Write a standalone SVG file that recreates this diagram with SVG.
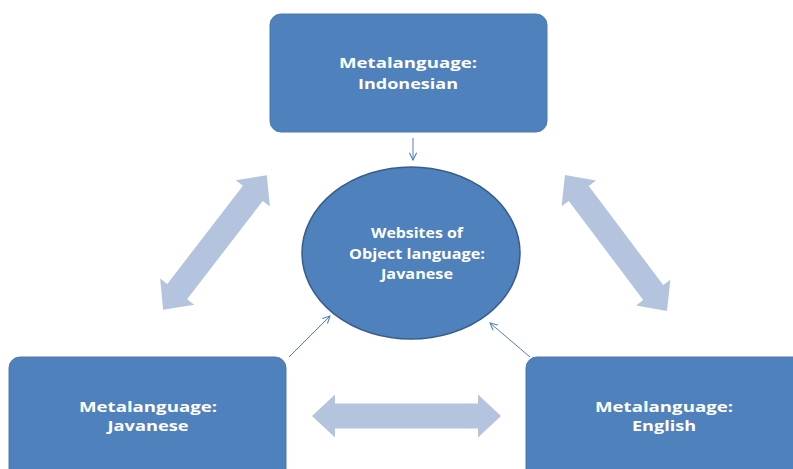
<svg xmlns="http://www.w3.org/2000/svg" width="793" height="469" viewBox="0 0 793 469">
<defs>
<style>
.box{fill:#4f81bd;stroke:#4a7ab5;stroke-width:1}
.ell{fill:#4f81bd;stroke:#385d8a;stroke-width:1.5}
.t{font-family:"Open Sans","DejaVu Sans",sans-serif;font-weight:bold;fill:#ffffff;text-anchor:middle}
.big{font-size:14.5px}
.small{font-size:13.5px}
.dbl{fill:#b4c4df}
.thin{stroke:#4f81bd;stroke-width:1;fill:none;marker-end:url(#ah)}
</style>
<marker id="ah" viewBox="0 0 10 10" refX="9" refY="5" markerWidth="9" markerHeight="9" markerUnits="userSpaceOnUse" orient="auto">
<path d="M1,1 L9,5 L1,9" fill="none" stroke="#4f81bd" stroke-width="1.2"/>
</marker>
</defs>
<g id="connectors">
<path class="dbl" transform="translate(215,242.5) rotate(-52.4)" d="M-85,0 L-62,-21.5 L-62,-12.5 L62,-12.5 L62,-21.5 L85,0 L62,21.5 L62,12.5 L-62,12.5 L-62,21.5 Z"/>
<path class="dbl" transform="translate(616,243) rotate(53.1)" d="M-85,0 L-62,-21.5 L-62,-12.5 L62,-12.5 L62,-21.5 L85,0 L62,21.5 L62,12.5 L-62,12.5 L-62,21.5 Z"/>
<path class="dbl" transform="translate(406.5,416)" d="M-94.5,0 L-71.5,-21.5 L-71.5,-12.5 L71.5,-12.5 L71.5,-21.5 L94.5,0 L71.5,21.5 L71.5,12.5 L-71.5,12.5 L-71.5,21.5 Z"/>
<line class="thin" x1="413" y1="138" x2="413" y2="160"/>
<line class="thin" x1="289" y1="357" x2="330" y2="316"/>
<line class="thin" x1="530" y1="357" x2="490" y2="323"/>
</g>
<g id="top">
<rect class="box" x="270" y="14" width="277" height="118" rx="11"/>
<text class="t big" x="408" y="68" textLength="138" lengthAdjust="spacingAndGlyphs">Metalanguage:</text>
<text class="t big" x="408" y="89" textLength="100" lengthAdjust="spacingAndGlyphs">Indonesian</text>
</g>
<g id="center">
<ellipse class="ell" cx="411" cy="253" rx="109" ry="86"/>
<text class="t small" x="417" y="238" textLength="92" lengthAdjust="spacingAndGlyphs">Websites of</text>
<text class="t small" x="417" y="259" textLength="136" lengthAdjust="spacingAndGlyphs">Object language:</text>
<text class="t small" x="417" y="279" textLength="72" lengthAdjust="spacingAndGlyphs">Javanese</text>
</g>
<g id="left">
<rect class="box" x="9" y="357" width="277" height="130" rx="11"/>
<text class="t big" x="148" y="412" textLength="138" lengthAdjust="spacingAndGlyphs">Metalanguage:</text>
<text class="t big" x="148" y="431" textLength="81" lengthAdjust="spacingAndGlyphs">Javanese</text>
</g>
<g id="right">
<rect class="box" x="526" y="357" width="290" height="130" rx="11"/>
<text class="t big" x="664" y="412" textLength="138" lengthAdjust="spacingAndGlyphs">Metalanguage:</text>
<text class="t big" x="664" y="431" textLength="64" lengthAdjust="spacingAndGlyphs">English</text>
</g>
</svg>
